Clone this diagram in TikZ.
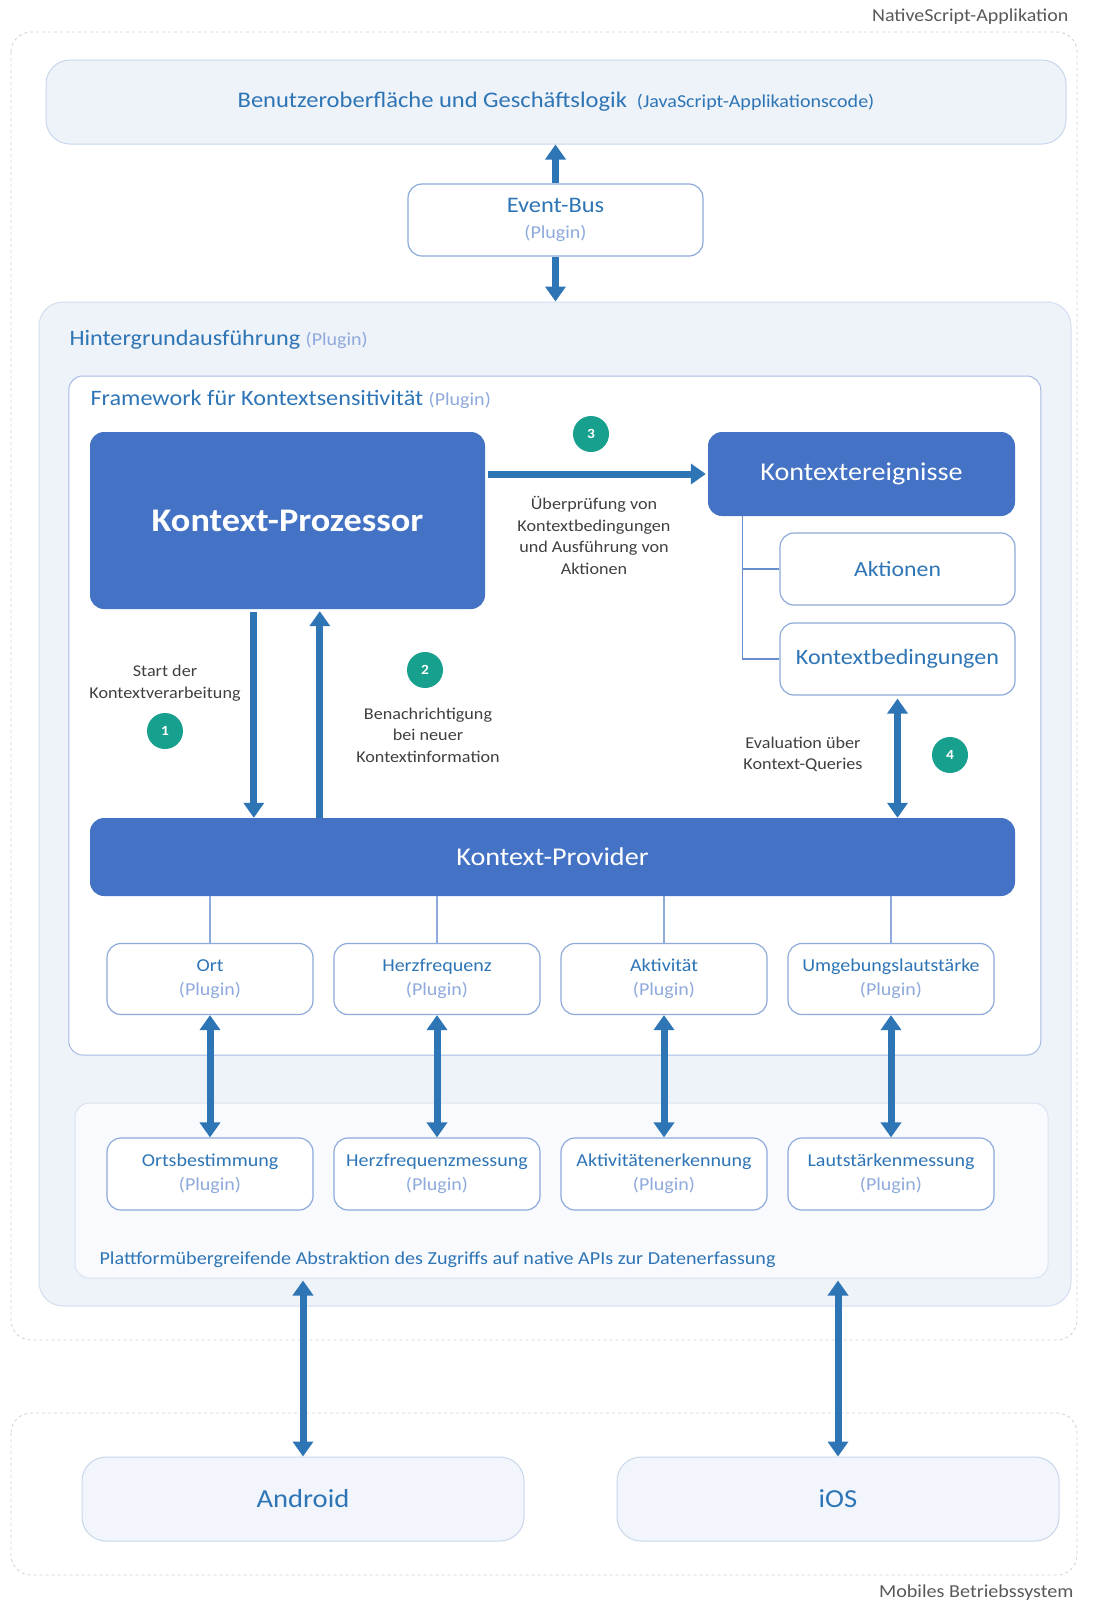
\documentclass[tikz,border=0pt]{standalone}
\usepackage{fontspec}
\setmainfont{Carlito}[FakeStretch=1.1]
\usetikzlibrary{arrows.meta,calc}

\definecolor{mainblue}{HTML}{4472C4}
\definecolor{arrowblue}{HTML}{2E75B6}
\definecolor{textblue}{HTML}{2E75B6}
\definecolor{plugblue}{HTML}{8FAADC}
\definecolor{boxline}{HTML}{8EAADB}
\definecolor{paleline}{HTML}{C9D7EC}
\definecolor{palefill}{HTML}{EEF2F9}
\definecolor{osfill}{HTML}{F2F5FB}
\definecolor{notegray}{HTML}{404040}
\definecolor{labelgray}{HTML}{595959}
\definecolor{tealc}{HTML}{17A08D}

\newcommand{\fs}[2]{\fontsize{#1}{#2}\selectfont}

\tikzset{
  arr/.style={line width=7pt, draw=arrowblue, -{Triangle[width=20pt,length=15pt]}},
  darr/.style={line width=7pt, draw=arrowblue, {Triangle[width=20pt,length=15pt]}-{Triangle[width=20pt,length=15pt]}},
  solidbox/.style={fill=mainblue, draw=none, rounded corners=14pt, text=white, inner sep=0pt},
  plugbox/.style={fill=white, draw=boxline, line width=1.2pt, rounded corners=14pt,
    text=textblue, align=center, inner sep=0pt, font=\fs{18.2}{24}},
  palebox/.style={fill=palefill, draw=paleline, line width=1pt, rounded corners=24pt, inner sep=0pt},
  region/.style={draw=black!18, dashed, line width=0.8pt, rounded corners=20pt},
  num/.style={circle, fill=tealc, text=white, font=\bfseries\fs{14}{16}, minimum size=36pt, inner sep=0pt},
  note/.style={text=notegray, align=center, font=\fs{16.5}{21.5}},
  thinline/.style={draw=boxline, line width=1.3pt},
  treeline/.style={draw=mainblue!80, line width=1.3pt}
}

\begin{document}
\begin{tikzpicture}[x=1pt,y=-1pt]
\useasboundingbox (0,0) rectangle (1097,1604);

% outer regions
\draw[region, fill=white] (11,32) rectangle (1077,1340);
\draw[region, fill=white] (11,1413) rectangle (1077,1575);
\node[anchor=east, text=labelgray, font=\fs{18.2}{20}] (appl) at (1072,17) {NativeScript-Applikation};
\node[anchor=east, text=labelgray, font=\fs{18.3}{21}] (osl) at (1077,1593) {Mobiles Betriebssystem};

% application code
\node[palebox, minimum width=1020pt, minimum height=84pt, text=textblue] (top) at (556,102)
  {\fs{22.3}{25}Benutzeroberfläche und Geschäftslogik\hspace{10pt}\fs{18.2}{20}(JavaScript-Applikationscode)};

% event bus
\node[plugbox, minimum width=295pt, minimum height=72pt, font=\fs{22.2}{27}] (eb) at (555.5,220)
  {Event-Bus\\[-1pt]{\fs{18.2}{20}\color{plugblue}(Plugin)}};

% background execution
\node[palebox, minimum width=1032pt, minimum height=1004pt, draw=paleline!80] (hin) at (555,804) {};
\node[anchor=base west, text=textblue, font=\fs{22}{26}] (hinl) at (66,345)
  {Hintergrundausführung {\fs{18.2}{20}\color{plugblue}(Plugin)}};

% context framework
\node[fill=white, draw=boxline!80, line width=1pt, rounded corners=14pt, minimum width=972pt, minimum height=679pt] (fw) at (554.75,715.5) {};
\node[anchor=base west, text=textblue, font=\fs{22}{26}] (fwl) at (87,405)
  {Framework für Kontextsensitivität {\fs{18.2}{20}\color{plugblue}(Plugin)}};

% processor, events, provider
\node[solidbox, minimum width=395pt, minimum height=177pt, font=\bfseries\fs{33}{36}] (kp) at (287.5,520.5) {Kontext-Prozessor};
\node[solidbox, minimum width=307pt, minimum height=84pt, font=\fs{25.6}{28}] (ke) at (861.5,474) {Kontextereignisse};
\node[plugbox, minimum width=235pt, minimum height=72pt, font=\fs{21.6}{26}] (akt) at (897.5,569) {Aktionen};
\node[plugbox, minimum width=235pt, minimum height=72pt, font=\fs{21.9}{26}] (kb) at (897.5,659) {Kontextbedingungen};
\node[solidbox, minimum width=925pt, minimum height=78pt, font=\fs{25.6}{28}] (prov) at (552.5,857) {Kontext-Provider};

% event tree
\draw[treeline] ([xshift=35pt]ke.south west) |- (akt.west);
\draw[treeline] ([xshift=35pt]ke.south west) |- (kb.west);

% numbered steps
\draw[arr] ([yshift=-3pt,xshift=164pt]kp.south west) -- ([xshift=164pt]prov.north west);
\draw[arr] ([xshift=230pt]prov.north west) -- ([xshift=230pt,yshift=-2pt]kp.south west);
\draw[arr] ([xshift=3pt]kp.east |- ke.west) -- ([xshift=-2pt]ke.west);
\draw[darr] ([yshift=-3pt]kb.south) -- (kb.south |- prov.north);

\node[note] (n1) at (165,683) {Start der\\Kontextverarbeitung};
\node[num] (c1) at (165,731) {1};
\node[num] (c2) at (425,670) {2};
\node[note] (n2) at (428,735) {Benachrichtigung\\bei neuer\\Kontextinformation};
\node[num] (c3) at (591,434) {3};
\node[note] (n3) at (594,535.5) {Überprüfung von\\Kontextbedingungen\\und Ausführung von\\Aktionen};
\node[note] (n4) at (803,754.5) {Evaluation über\\Kontext-Queries};
\node[num] (c4) at (950,755) {4};

% context plugins
\node[plugbox, minimum width=206pt, minimum height=71pt] (s1) at (210,979) {Ort\\{\color{plugblue}(Plugin)}};
\node[plugbox, minimum width=206pt, minimum height=71pt] (s2) at (437,979) {Herzfrequenz\\{\color{plugblue}(Plugin)}};
\node[plugbox, minimum width=206pt, minimum height=71pt] (s3) at (664,979) {Aktivität\\{\color{plugblue}(Plugin)}};
\node[plugbox, minimum width=206pt, minimum height=71pt] (s4) at (891,979) {Umgebungslautstärke\\{\color{plugblue}(Plugin)}};
\foreach \s in {s1,s2,s3,s4}{
  \draw[thinline] (\s.north |- prov.south) -- (\s.north);
}

% platform abstraction
\node[fill=white!60!palefill, draw=paleline!70, line width=1pt, rounded corners=14pt, minimum width=973pt, minimum height=175pt] (plat) at (561.5,1190.5) {};
\node[anchor=base west, text=textblue, font=\fs{18.3}{22}] (platl) at (96,1264)
  {Plattformübergreifende Abstraktion des Zugriffs auf native APIs zur Datenerfassung};

\node[plugbox, minimum width=206pt, minimum height=72pt] (m1) at (210,1174) {Ortsbestimmung\\{\color{plugblue}(Plugin)}};
\node[plugbox, minimum width=206pt, minimum height=72pt] (m2) at (437,1174) {Herzfrequenzmessung\\{\color{plugblue}(Plugin)}};
\node[plugbox, minimum width=206pt, minimum height=72pt] (m3) at (664,1174) {Aktivitätenerkennung\\{\color{plugblue}(Plugin)}};
\node[plugbox, minimum width=206pt, minimum height=72pt] (m4) at (891,1174) {Lautstärkenmessung\\{\color{plugblue}(Plugin)}};

\draw[darr] (s1.south) -- (m1.north);
\draw[darr] (s2.south) -- (m2.north);
\draw[darr] (s3.south) -- (m3.north);
\draw[darr] (s4.south) -- (m4.north);

% event bus links
\draw[arr] (eb.north) -- (eb.north |- top.south);
\draw[arr] (eb.south) -- (eb.south |- hin.north);

% operating systems
\node[palebox, fill=osfill, minimum width=442pt, minimum height=84pt, text=textblue, font=\fs{26}{30}] (android) at (303,1499) {Android};
\node[palebox, fill=osfill, minimum width=442pt, minimum height=84pt, text=textblue, font=\fs{26}{30}] (ios) at (838,1499) {iOS};

\draw[darr] ([yshift=-2pt]android.north |- plat.south) -- (android.north);
\draw[darr] ([yshift=-2pt]ios.north |- plat.south) -- (ios.north);
\end{tikzpicture}
\end{document}
